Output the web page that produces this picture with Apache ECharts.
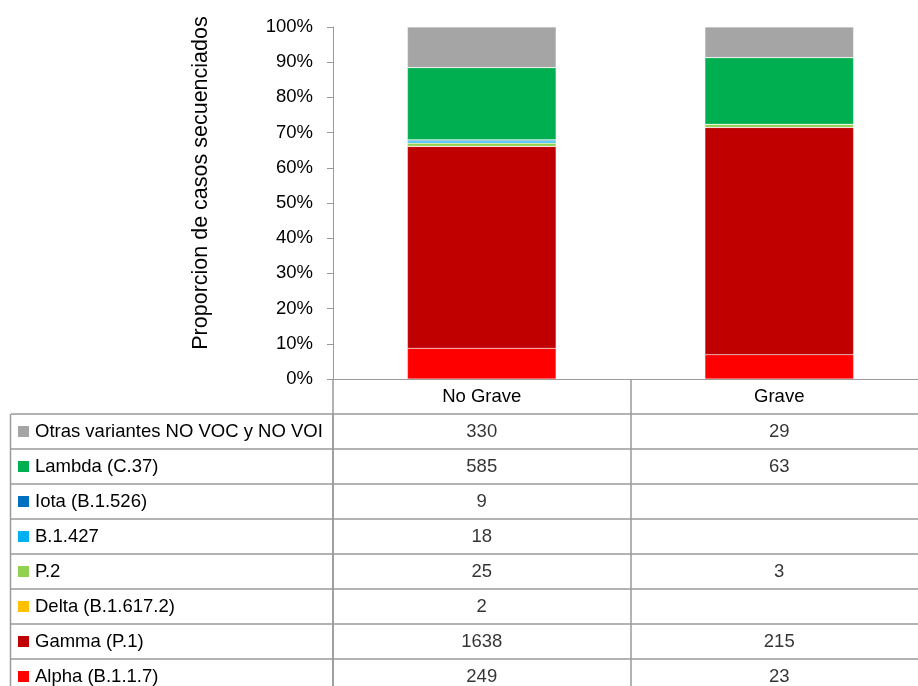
<!DOCTYPE html>
<html>
<head>
<meta charset="utf-8">
<script src="https://cdn.jsdelivr.net/npm/echarts@6/dist/echarts.min.js"></script>
<style>
  html, body { margin: 0; padding: 0; background: #fff; }
  #chart { width: 918px; height: 686px; }
</style>
</head>
<body>
<div id="chart"></div>
<script>
// Sequenced cases by variant, split by severity (counts)
const groups = ['No Grave', 'Grave'];
const variants = ['Alpha (B.1.1.7)', 'Gamma (P.1)', 'Delta (B.1.617.2)', 'P.2', 'B.1.427', 'Iota (B.1.526)', 'Lambda (C.37)', 'Otras variantes NO VOC y NO VOI'];
const colors = ['#FF0000', '#C00000', '#FFC000', '#92D050', '#00B0F0', '#0070C0', '#00B050', '#A5A5A5'];
const alpha   = [249, 23];
const gamma   = [1638, 215];
const delta   = [2, null];
const p2      = [25, 3];
const b1427   = [18, null];
const iota    = [9, null];
const lambda  = [585, 63];
const otras   = [330, 29];
const yTicks  = ['0%', '10%', '20%', '30%', '40%', '50%', '60%', '70%', '80%', '90%', '100%'];

const counts = [alpha, gamma, delta, p2, b1427, iota, lambda, otras];
const totals = groups.map((g, j) => counts.reduce((s, arr) => s + (arr[j] || 0), 0));

const FONT = 'Liberation Sans';
const FS = 18.5;
const GRID_LINE = '#9a9a9a';

// Table rows run top to bottom in reverse stacking order
const rowOrder = variants.map((v, i) => i).reverse();
const rowNames = rowOrder.map(i => variants[i]);

const rich = {};
rowOrder.forEach((i, r) => {
  rich['sq' + r] = { width: 11, height: 11, backgroundColor: colors[i] };
});
rich.t = { fontFamily: FONT, fontSize: FS, color: '#000', padding: [0, 0, 0, 6] };

const tableCells = [];
rowOrder.forEach((i, r) => {
  groups.forEach((g, j) => {
    if (counts[i][j] != null) tableCells.push([j, r, counts[i][j]]);
  });
});

const barSeries = counts.map((arr, i) => ({
  name: variants[i],
  type: 'bar',
  stack: 'share',
  xAxisIndex: 0,
  yAxisIndex: 0,
  barCategoryGap: '50%',
  itemStyle: { color: colors[i], borderColor: 'rgba(255,255,255,0.35)', borderWidth: 0.6 },
  data: arr.map((v, j) => v == null ? 0 : v / totals[j] * 100)
}));

const chart = echarts.init(document.getElementById('chart'));
chart.setOption({
  animation: false,
  textStyle: { fontFamily: FONT },
  grid: [
    { left: 333, top: 27, width: 595, height: 352, containLabel: false, outerBoundsMode: 'none' },
    { left: 333, top: 414, width: 595, height: 280, containLabel: false, outerBoundsMode: 'none' }
  ],
  xAxis: [
    {
      gridIndex: 0, type: 'category', data: groups,
      axisLine: { lineStyle: { color: GRID_LINE, width: 1 } },
      axisTick: { show: true, length: 35, interval: 0, alignWithLabel: false, lineStyle: { color: GRID_LINE, width: 1.5 } },
      axisLabel: { margin: 8, fontFamily: FONT, fontSize: FS, color: '#000', interval: 0 }
    },
    {
      gridIndex: 1, type: 'category', data: groups,
      axisLine: { show: false }, axisTick: { show: false }, axisLabel: { show: false },
      splitLine: { show: true, interval: 0, lineStyle: { color: GRID_LINE, width: 1.5 } }
    }
  ],
  yAxis: [
    {
      gridIndex: 0, type: 'value', min: 0, max: 100, interval: 10,
      axisLine: { show: true, lineStyle: { color: GRID_LINE } },
      axisTick: { show: true, length: 6, lineStyle: { color: GRID_LINE } },
      splitLine: { show: false },
      axisLabel: { margin: 20, fontFamily: FONT, fontSize: FS, color: '#000',
        formatter: v => yTicks[Math.round(v / 10)] }
    },
    {
      gridIndex: 1, type: 'category', data: rowNames, inverse: true,
      axisLine: { show: true, lineStyle: { color: GRID_LINE, width: 1.5 } },
      axisTick: { show: true, length: 322, interval: 0, alignWithLabel: false, lineStyle: { color: GRID_LINE, width: 1.5 } },
      splitLine: { show: true, interval: 0, lineStyle: { color: GRID_LINE, width: 1.5 } },
      axisLabel: {
        margin: 315, align: 'left', interval: 0,
        formatter: (v, idx) => '{sq' + idx + '|}{t|' + v + '}',
        rich: rich
      }
    }
  ],
  graphic: [
    {
      type: 'line', silent: true,
      shape: { x1: 10.5, y1: 414, x2: 10.5, y2: 700 },
      style: { stroke: GRID_LINE, lineWidth: 1.5 }
    },
    {
      type: 'text', silent: true,
      x: 201, y: 183, rotation: Math.PI / 2,
      style: {
        text: 'Proporcion de casos secuenciados',
        font: '21.5px "' + FONT + '"', fill: '#000',
        align: 'center', verticalAlign: 'middle'
      }
    }
  ],
  series: barSeries.concat([{
    type: 'scatter',
    xAxisIndex: 1, yAxisIndex: 1,
    symbolSize: 1,
    itemStyle: { color: 'rgba(0,0,0,0)' },
    label: {
      show: true, position: 'inside',
      fontFamily: FONT, fontSize: FS, color: '#000',
      formatter: p => String(p.value[2])
    },
    data: tableCells
  }])
});
</script>
</body>
</html>
